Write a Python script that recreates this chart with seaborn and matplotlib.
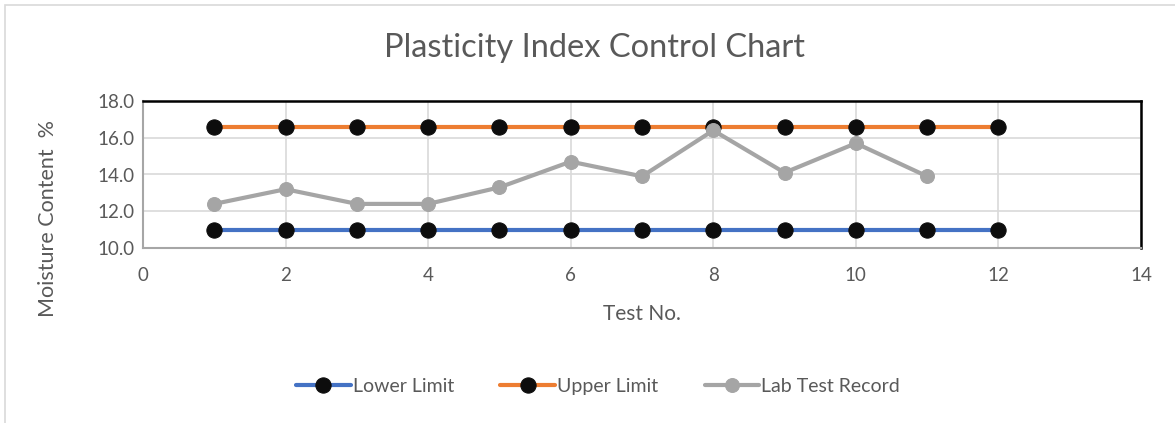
import numpy as np
import pandas as pd
import matplotlib
matplotlib.use("Agg")
import matplotlib.pyplot as plt
import seaborn as sns
from matplotlib.patches import Rectangle

test_no = [1, 2, 3, 4, 5, 6, 7, 8, 9, 10, 11, 12]
lower_limit = [11.0] * 12
upper_limit = [16.6] * 12
lab_test_no = [1, 2, 3, 4, 5, 6, 7, 8, 9, 10, 11]
lab_record = [12.4, 13.2, 12.4, 12.4, 13.3, 14.7, 13.9, 16.4, 14.1, 15.7, 13.9]

sns.set_theme(style="white")
plt.rcParams['font.family'] = ['Lato', 'DejaVu Sans']

fig = plt.figure(figsize=(11.75, 4.23), dpi=100)
ax = fig.add_axes([143/1175, 1-248/423, (1141-143)/1175, (248-101)/423])

# outer chart border
fig.patches.append(Rectangle((5/1175, -0.05), 1.2, 1-5/423+0.05, transform=fig.transFigure,
                             fill=False, edgecolor='#d9d9d9', linewidth=1.2))

sns.lineplot(x=test_no, y=lower_limit, ax=ax, color='#4472c4', linewidth=3,
             marker='o', markersize=11, markerfacecolor='#0d0d0d', markeredgecolor='#0d0d0d',
             label='Lower Limit')
sns.lineplot(x=test_no, y=upper_limit, ax=ax, color='#ed7d31', linewidth=3,
             marker='o', markersize=11, markerfacecolor='#0d0d0d', markeredgecolor='#0d0d0d',
             label='Upper Limit')
sns.lineplot(x=lab_test_no, y=lab_record, ax=ax, color='#a5a5a5', linewidth=3,
             marker='o', markersize=10, markerfacecolor='#a5a5a5', markeredgecolor='#a5a5a5',
             label='Lab Test Record')

ax.set_xlim(0, 14)
ax.set_ylim(10, 18)
ax.set_xticks(range(0, 15, 2))
ax.set_yticks([10, 12, 14, 16, 18])
ax.set_yticklabels([f"{v:.1f}" for v in [10, 12, 14, 16, 18]])
ax.grid(True, color='#d9d9d9', linewidth=1.2)
ax.set_axisbelow(True)
ax.tick_params(axis='both', labelsize=13.5, colors='#595959', length=0)
ax.tick_params(axis='x', pad=14)
ax.tick_params(axis='y', pad=6)

for s in ['top', 'right']:
    ax.spines[s].set_color('black')
    ax.spines[s].set_linewidth(1.8)
for s in ['bottom', 'left']:
    ax.spines[s].set_color('#a6a6a6')
    ax.spines[s].set_linewidth(1.5)

ax.set_xlabel('Test No.', fontsize=15, color='#595959', labelpad=14)
ax.set_ylabel('Moisture Content  %', fontsize=15.5, color='#595959')
ax.yaxis.set_label_coords(-0.085, 0.2)
ax.yaxis.label.set_fontstretch('expanded')

fig.text(594/1175, 1-48/423, 'Plasticity Index Control Chart', ha='center', va='center',
         fontsize=23.5, color='#595959')

ax.legend(loc='center', bbox_to_anchor=(598/1175, 1-386/423), bbox_transform=fig.transFigure,
          ncol=3, frameon=False, fontsize=14, handlelength=2.8, columnspacing=2.4,
          handletextpad=0.1, labelcolor='#595959')

fig.savefig('out.png', dpi=100)
